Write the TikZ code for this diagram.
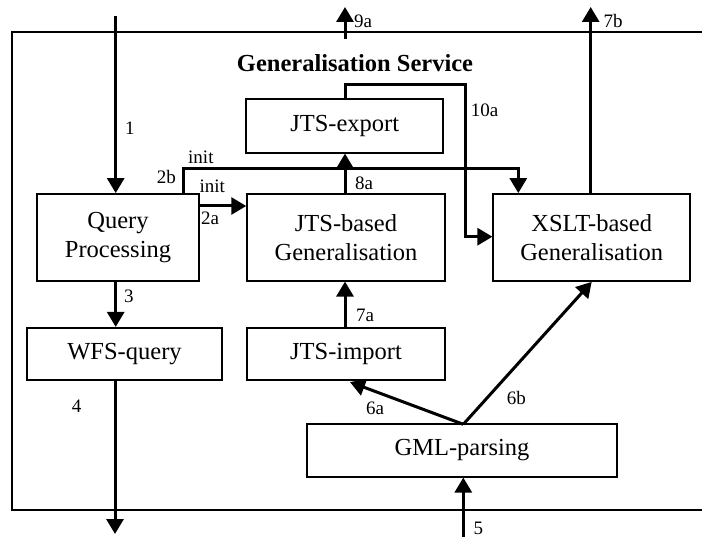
\documentclass[tikz,border=0pt]{standalone}
\usepackage{fontspec}
\setmainfont{Liberation Serif}
\usetikzlibrary{arrows.meta,calc}
\begin{document}
\begin{tikzpicture}[x=1pt,y=-1pt,
 box/.style={draw, line width=1.8pt, inner sep=0pt, align=center, font=\fontsize{24.5}{29}\selectfont},
 arr/.style={line width=3pt, -{Triangle[length=15pt,width=17pt]}},
 lab/.style={font=\fontsize{19}{22}\selectfont, inner sep=0pt, anchor=base west},
 frame/.style={line width=1.7pt}]
\useasboundingbox (0,0) rectangle (702,537);
% frame
\draw[frame] (702,32) -- (12,32) -- (12,510) -- (702,510);
\node[font=\bfseries\fontsize{24.5}{29}\selectfont, inner sep=0pt, anchor=base] (title) at (355,71.7) {Generalisation Service};
% boxes
\node[box, minimum width=162.6pt, minimum height=86.7pt] (qp) at (118,237.3) {Query\\Processing};
\node[box, minimum width=195.6pt, minimum height=52.3pt] (wfs) at (124.5,354) {WFS-query};
\node[box, minimum width=197.3pt, minimum height=53.4pt] (exp) at (344.7,126) {JTS-export};
\node[box, minimum width=197.7pt, minimum height=86.7pt] (jtsg) at (346,237.3) {JTS-based\\Generalisation};
\node[box, minimum width=198pt, minimum height=52.3pt] (imp) at (346,354) {JTS-import};
\node[box, minimum width=310.6pt, minimum height=52.4pt] (gml) at (462,450.5) {GML-parsing};
\node[box, minimum width=196.7pt, minimum height=87pt] (xslt) at (591.7,237.5) {XSLT-based\\Generalisation};
% coordinates
\coordinate (in1) at (115.7,16);
\coordinate (c3) at (115.7,0);
\coordinate (out4) at (115,534);
\coordinate (y2a) at (0,206);
\coordinate (b2l) at (183.3,168.3);
\coordinate (b2r) at (518.3,168.3);
\coordinate (x345) at (345,0);
\coordinate (k1) at (345,85);
\coordinate (k2) at (465,85);
\coordinate (k3) at (465,236.7);
\coordinate (n9s) at (345,39);
\coordinate (n9e) at (345,7);
\coordinate (o7) at (590.7,7);
\coordinate (g) at (463.3,424.3);
\coordinate (in5) at (463.3,537);
% connectors
\draw[arr] (in1) -- (in1 |- qp.north);
\draw[arr] (c3 |- qp.south) -- (c3 |- wfs.north);
\draw[arr] (out4 |- wfs.south) -- (out4);
\draw[arr] (qp.east |- y2a) -- (jtsg.west |- y2a);
\draw[arr] (b2l |- qp.north) -- (b2l) -- (b2r) -- (b2r |- xslt.north);
\draw[arr] (x345 |- jtsg.north) -- (x345 |- exp.south);
\draw[arr] (x345 |- imp.north) -- (x345 |- jtsg.south);
\draw[arr] (x345 |- exp.north) -- (k1) -- (k2) -- (k3) -- (xslt.west |- k3);
\draw[arr] (n9s) -- (n9e);
\draw[arr] (o7 |- xslt.north) -- (o7);
\draw[arr] (g) -- ($(imp.south)+(4,1)$);
\draw[arr] (g) -- (xslt.south);
\draw[arr] (in5) -- (in5 |- gml.south);
% labels
\node[lab] (l1) at (125,135) {1};
\node[lab] (linit1) at (188,163.3) {init};
\node[lab] (l2b) at (156.7,183.3) {2b};
\node[lab] (linit2) at (199.3,192.7) {init};
\node[lab] (l2a) at (201,225) {2a};
\node[lab] (l3) at (124,303) {3};
\node[lab] (l4) at (71.7,412.7) {4};
\node[lab] (l9a) at (354,27.3) {9a};
\node[lab] (l7b) at (603.3,27.3) {7b};
\node[lab] (l10a) at (470.7,116.7) {10a};
\node[lab] (l8a) at (355,190) {8a};
\node[lab] (l7a) at (356,321.7) {7a};
\node[lab] (l6a) at (366,415) {6a};
\node[lab] (l6b) at (506.7,405) {6b};
\node[lab] (l5) at (473.3,534) {5};
\end{tikzpicture}
\end{document}
